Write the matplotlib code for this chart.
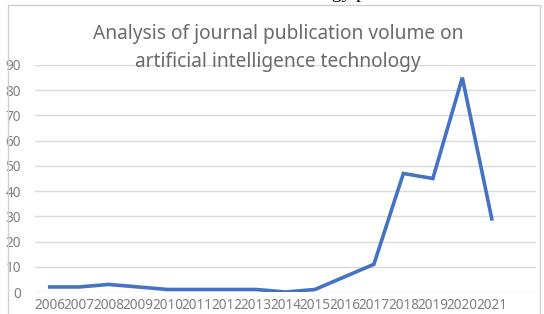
import matplotlib
matplotlib.use("Agg")
import matplotlib.pyplot as plt
from matplotlib.patches import Rectangle

years = ["2006", "2007", "2008", "2009", "2010", "2011", "2012", "2013",
         "2014", "2015", "2016", "2017", "2018", "2019", "2020", "2021"]
counts = [2, 2, 3, 2, 1, 1, 1, 1, 0, 1, 6, 11, 47, 45, 85, 29]
yticks = [0, 10, 20, 30, 40, 50, 60, 70, 80, 90]
title = "Analysis of journal publication volume on\nartificial intelligence technology"

plt.rcParams['font.family'] = ['Noto Sans', 'DejaVu Sans']

W, H = 544, 314
fig = plt.figure(figsize=(W / 100, H / 100), dpi=100)
fig.patch.set_facecolor('white')

# chart frame
fig.patches.append(Rectangle((8 / W, -0.05), (540 - 8) / W, 1.05 - 5 / H,
                             transform=fig.transFigure, fill=False,
                             edgecolor='#d0d0d0', linewidth=1.0))

# cut-off document text at very top
fig.text(322 / W, 1 + 6 / H, "ogy p", ha='left', va='center',
         fontsize=14, family='Liberation Serif', color='black')

ax = fig.add_axes([35 / W, 1 - 292 / H, (536 - 35) / W, (292 - 65) / H])
x = list(range(len(years)))
ax.plot(x, counts, color='#4472C4', linewidth=2.6, solid_joinstyle='miter',
        zorder=3)
ax.set_xlim(-0.5, 16.5)
ax.set_ylim(0, 90)
ax.set_yticks(yticks)
ax.set_xticks(x)
ax.set_xticklabels(years)
ax.grid(axis='y', color='#d9d9d9', linewidth=1.0)
ax.set_axisbelow(True)
for s in ax.spines.values():
    s.set_visible(False)
ax.tick_params(axis='both', length=0, colors='#7f7f7f', labelsize=9.8)
ax.tick_params(axis='y', pad=10)
ax.tick_params(axis='x', pad=4)

fig.text(278 / W, 1 - 48 / H, title, ha='center', va='center',
         fontsize=13.8, color='#6b6b6b', linespacing=1.6)

fig.savefig("out.png", dpi=100, facecolor='white')
